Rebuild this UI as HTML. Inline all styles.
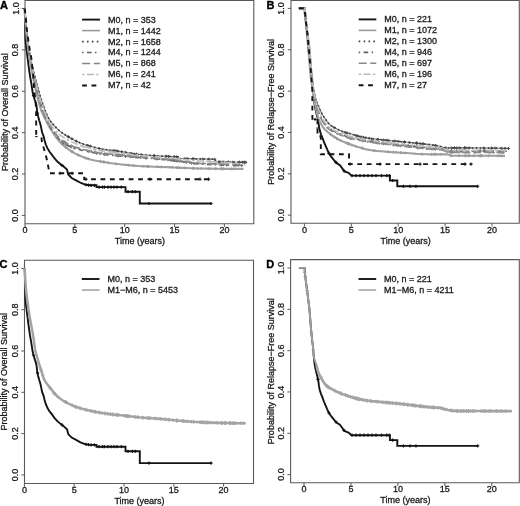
<!DOCTYPE html><html><head><meta charset="utf-8"><style>html,body{margin:0;padding:0;background:#fff;overflow:hidden}svg{display:block;will-change:transform}text{font-family:"Liberation Sans", sans-serif;font-size:9px;fill:#1a1a1a;stroke:#1a1a1a;stroke-width:0.3px}</style></head><body>
<svg width="520" height="506" viewBox="0 0 520 506">
<rect width="520" height="506" fill="#fff"/>
<text x="0.1" y="8.6" style="font-weight:bold;font-size:11px;fill:#000;stroke:#000;stroke-width:0.35px">A</text>
<text x="266.5" y="8.7" style="font-weight:bold;font-size:11px;fill:#000;stroke:#000;stroke-width:0.35px">B</text>
<text x="-0.4" y="268.2" style="font-weight:bold;font-size:11px;fill:#000;stroke:#000;stroke-width:0.35px">C</text>
<text x="266.2" y="268.3" style="font-weight:bold;font-size:11px;fill:#000;stroke:#000;stroke-width:0.35px">D</text>
<path d="M25 0.5H253.8V223.8H25Z" fill="none" stroke="#5a5a5a" stroke-width="1.1"/>
<line x1="21.8" y1="215.4" x2="25" y2="215.4" stroke="#5a5a5a" stroke-width="1"/>
<text x="18.5" y="215.4" transform="rotate(-90 18.5 215.4)" text-anchor="middle">0.0</text>
<line x1="21.8" y1="174.02" x2="25" y2="174.02" stroke="#5a5a5a" stroke-width="1"/>
<text x="18.5" y="174.02" transform="rotate(-90 18.5 174.02)" text-anchor="middle">0.2</text>
<line x1="21.8" y1="132.64" x2="25" y2="132.64" stroke="#5a5a5a" stroke-width="1"/>
<text x="18.5" y="132.64" transform="rotate(-90 18.5 132.64)" text-anchor="middle">0.4</text>
<line x1="21.8" y1="91.26" x2="25" y2="91.26" stroke="#5a5a5a" stroke-width="1"/>
<text x="18.5" y="91.26" transform="rotate(-90 18.5 91.26)" text-anchor="middle">0.6</text>
<line x1="21.8" y1="49.88" x2="25" y2="49.88" stroke="#5a5a5a" stroke-width="1"/>
<text x="18.5" y="49.88" transform="rotate(-90 18.5 49.88)" text-anchor="middle">0.8</text>
<line x1="21.8" y1="8.5" x2="25" y2="8.5" stroke="#5a5a5a" stroke-width="1"/>
<text x="18.5" y="8.5" transform="rotate(-90 18.5 8.5)" text-anchor="middle">1.0</text>
<line x1="25" y1="223.8" x2="25" y2="227" stroke="#5a5a5a" stroke-width="1"/>
<text x="25" y="233.3" text-anchor="middle">0</text>
<line x1="74.85" y1="223.8" x2="74.85" y2="227" stroke="#5a5a5a" stroke-width="1"/>
<text x="74.85" y="233.3" text-anchor="middle">5</text>
<line x1="124.7" y1="223.8" x2="124.7" y2="227" stroke="#5a5a5a" stroke-width="1"/>
<text x="124.7" y="233.3" text-anchor="middle">10</text>
<line x1="174.55" y1="223.8" x2="174.55" y2="227" stroke="#5a5a5a" stroke-width="1"/>
<text x="174.55" y="233.3" text-anchor="middle">15</text>
<line x1="224.4" y1="223.8" x2="224.4" y2="227" stroke="#5a5a5a" stroke-width="1"/>
<text x="224.4" y="233.3" text-anchor="middle">20</text>
<text x="139.9" y="244.2" text-anchor="middle">Time (years)</text>
<text x="8" y="112.15" transform="rotate(-90 8 112.15)" text-anchor="middle">Probability of Overall Survival</text>
<path d="M291 0.5H519.3V223.3H291Z" fill="none" stroke="#5a5a5a" stroke-width="1.1"/>
<line x1="287.8" y1="215.2" x2="291" y2="215.2" stroke="#5a5a5a" stroke-width="1"/>
<text x="284.5" y="215.2" transform="rotate(-90 284.5 215.2)" text-anchor="middle">0.0</text>
<line x1="287.8" y1="173.84" x2="291" y2="173.84" stroke="#5a5a5a" stroke-width="1"/>
<text x="284.5" y="173.84" transform="rotate(-90 284.5 173.84)" text-anchor="middle">0.2</text>
<line x1="287.8" y1="132.48" x2="291" y2="132.48" stroke="#5a5a5a" stroke-width="1"/>
<text x="284.5" y="132.48" transform="rotate(-90 284.5 132.48)" text-anchor="middle">0.4</text>
<line x1="287.8" y1="91.12" x2="291" y2="91.12" stroke="#5a5a5a" stroke-width="1"/>
<text x="284.5" y="91.12" transform="rotate(-90 284.5 91.12)" text-anchor="middle">0.6</text>
<line x1="287.8" y1="49.76" x2="291" y2="49.76" stroke="#5a5a5a" stroke-width="1"/>
<text x="284.5" y="49.76" transform="rotate(-90 284.5 49.76)" text-anchor="middle">0.8</text>
<line x1="287.8" y1="8.4" x2="291" y2="8.4" stroke="#5a5a5a" stroke-width="1"/>
<text x="284.5" y="8.4" transform="rotate(-90 284.5 8.4)" text-anchor="middle">1.0</text>
<line x1="304.4" y1="223.3" x2="304.4" y2="226.5" stroke="#5a5a5a" stroke-width="1"/>
<text x="304.4" y="232.8" text-anchor="middle">0</text>
<line x1="351.3" y1="223.3" x2="351.3" y2="226.5" stroke="#5a5a5a" stroke-width="1"/>
<text x="351.3" y="232.8" text-anchor="middle">5</text>
<line x1="398.2" y1="223.3" x2="398.2" y2="226.5" stroke="#5a5a5a" stroke-width="1"/>
<text x="398.2" y="232.8" text-anchor="middle">10</text>
<line x1="445.1" y1="223.3" x2="445.1" y2="226.5" stroke="#5a5a5a" stroke-width="1"/>
<text x="445.1" y="232.8" text-anchor="middle">15</text>
<line x1="492" y1="223.3" x2="492" y2="226.5" stroke="#5a5a5a" stroke-width="1"/>
<text x="492" y="232.8" text-anchor="middle">20</text>
<text x="405.65" y="243.7" text-anchor="middle">Time (years)</text>
<text x="274" y="111.9" transform="rotate(-90 274 111.9)" text-anchor="middle">Probability of Relapse−Free Survival</text>
<path d="M24.5 260.2H253.5V483.5H24.5Z" fill="none" stroke="#5a5a5a" stroke-width="1.1"/>
<line x1="21.3" y1="474.9" x2="24.5" y2="474.9" stroke="#5a5a5a" stroke-width="1"/>
<text x="18" y="474.9" transform="rotate(-90 18 474.9)" text-anchor="middle">0.0</text>
<line x1="21.3" y1="433.6" x2="24.5" y2="433.6" stroke="#5a5a5a" stroke-width="1"/>
<text x="18" y="433.6" transform="rotate(-90 18 433.6)" text-anchor="middle">0.2</text>
<line x1="21.3" y1="392.3" x2="24.5" y2="392.3" stroke="#5a5a5a" stroke-width="1"/>
<text x="18" y="392.3" transform="rotate(-90 18 392.3)" text-anchor="middle">0.4</text>
<line x1="21.3" y1="351" x2="24.5" y2="351" stroke="#5a5a5a" stroke-width="1"/>
<text x="18" y="351" transform="rotate(-90 18 351)" text-anchor="middle">0.6</text>
<line x1="21.3" y1="309.7" x2="24.5" y2="309.7" stroke="#5a5a5a" stroke-width="1"/>
<text x="18" y="309.7" transform="rotate(-90 18 309.7)" text-anchor="middle">0.8</text>
<line x1="21.3" y1="268.4" x2="24.5" y2="268.4" stroke="#5a5a5a" stroke-width="1"/>
<text x="18" y="268.4" transform="rotate(-90 18 268.4)" text-anchor="middle">1.0</text>
<line x1="24.4" y1="483.5" x2="24.4" y2="486.7" stroke="#5a5a5a" stroke-width="1"/>
<text x="24.4" y="493" text-anchor="middle">0</text>
<line x1="74.2" y1="483.5" x2="74.2" y2="486.7" stroke="#5a5a5a" stroke-width="1"/>
<text x="74.2" y="493" text-anchor="middle">5</text>
<line x1="124" y1="483.5" x2="124" y2="486.7" stroke="#5a5a5a" stroke-width="1"/>
<text x="124" y="493" text-anchor="middle">10</text>
<line x1="173.8" y1="483.5" x2="173.8" y2="486.7" stroke="#5a5a5a" stroke-width="1"/>
<text x="173.8" y="493" text-anchor="middle">15</text>
<line x1="223.6" y1="483.5" x2="223.6" y2="486.7" stroke="#5a5a5a" stroke-width="1"/>
<text x="223.6" y="493" text-anchor="middle">20</text>
<text x="139.5" y="503.9" text-anchor="middle">Time (years)</text>
<text x="7.5" y="371.85" transform="rotate(-90 7.5 371.85)" text-anchor="middle">Probability of Overall Survival</text>
<path d="M290.6 259.6H519.3V482.8H290.6Z" fill="none" stroke="#5a5a5a" stroke-width="1.1"/>
<line x1="287.4" y1="474.6" x2="290.6" y2="474.6" stroke="#5a5a5a" stroke-width="1"/>
<text x="284.1" y="474.6" transform="rotate(-90 284.1 474.6)" text-anchor="middle">0.0</text>
<line x1="287.4" y1="433.28" x2="290.6" y2="433.28" stroke="#5a5a5a" stroke-width="1"/>
<text x="284.1" y="433.28" transform="rotate(-90 284.1 433.28)" text-anchor="middle">0.2</text>
<line x1="287.4" y1="391.96" x2="290.6" y2="391.96" stroke="#5a5a5a" stroke-width="1"/>
<text x="284.1" y="391.96" transform="rotate(-90 284.1 391.96)" text-anchor="middle">0.4</text>
<line x1="287.4" y1="350.64" x2="290.6" y2="350.64" stroke="#5a5a5a" stroke-width="1"/>
<text x="284.1" y="350.64" transform="rotate(-90 284.1 350.64)" text-anchor="middle">0.6</text>
<line x1="287.4" y1="309.32" x2="290.6" y2="309.32" stroke="#5a5a5a" stroke-width="1"/>
<text x="284.1" y="309.32" transform="rotate(-90 284.1 309.32)" text-anchor="middle">0.8</text>
<line x1="287.4" y1="268" x2="290.6" y2="268" stroke="#5a5a5a" stroke-width="1"/>
<text x="284.1" y="268" transform="rotate(-90 284.1 268)" text-anchor="middle">1.0</text>
<line x1="304" y1="482.8" x2="304" y2="486" stroke="#5a5a5a" stroke-width="1"/>
<text x="304" y="492.3" text-anchor="middle">0</text>
<line x1="350.95" y1="482.8" x2="350.95" y2="486" stroke="#5a5a5a" stroke-width="1"/>
<text x="350.95" y="492.3" text-anchor="middle">5</text>
<line x1="397.9" y1="482.8" x2="397.9" y2="486" stroke="#5a5a5a" stroke-width="1"/>
<text x="397.9" y="492.3" text-anchor="middle">10</text>
<line x1="444.85" y1="482.8" x2="444.85" y2="486" stroke="#5a5a5a" stroke-width="1"/>
<text x="444.85" y="492.3" text-anchor="middle">15</text>
<line x1="491.8" y1="482.8" x2="491.8" y2="486" stroke="#5a5a5a" stroke-width="1"/>
<text x="491.8" y="492.3" text-anchor="middle">20</text>
<text x="405.45" y="503.2" text-anchor="middle">Time (years)</text>
<text x="273.6" y="371.2" transform="rotate(-90 273.6 371.2)" text-anchor="middle">Probability of Relapse−Free Survival</text>
<path d="M24.7 8.5 24.81 12.68 24.92 16.87 25.03 21.05 25.13 25.24 25.24 29.42 25.33 33.61 25.42 37.79 25.6 41.97 26.1 46.13 26.63 50.28 27.15 54.43 27.67 58.59 28.18 62.74 28.72 66.89 29.29 71.04 29.91 75.18 30.6 79.31 31.34 83.43 31.95 87.57 32.57 91.71 33.53 95.77 34.76 99.78 36.15 103.74 36.77 107.86 37.24 112.03 38.08 116.13 39.14 120.18 40.4 124.18 41.29 128.26 42.08 132.34 43.62 136.24 44.55 140.33 45.76 144.33 47.4 148.19 49.56 151.77 52.13 155.07 54.61 158.46 57.32 161.59 60.57 164.26 63.89 166.81 67 169.6 68.27 174.43 71.64 178 76.06 180.33 80.44 182.74 85.08 184.59 90 185.3 96.5 185.3 96.5 187.1 125.5 187.1 125.5 191.7 139.8 191.7 139.8 203.5 211.3 203.5" stroke="#141414" stroke-width="1.9" fill="none"/>
<path d="M33.5 94.03v3.2M31.9 95.63h3.2M37.5 111.69v3.2M35.9 113.29h3.2M62 163.76v3.2M60.4 165.36h3.2M86 183.12v3.2M84.4 184.72h3.2M88.5 183.48v3.2M86.9 185.08h3.2M91 183.7v3.2M89.4 185.3h3.2M94.4 183.7v3.2M92.8 185.3h3.2M99 185.5v3.2M97.4 187.1h3.2M102.5 185.5v3.2M100.9 187.1h3.2M104.4 185.5v3.2M102.8 187.1h3.2M108 185.5v3.2M106.4 187.1h3.2M111 185.5v3.2M109.4 187.1h3.2M114 185.5v3.2M112.4 187.1h3.2M117 185.5v3.2M115.4 187.1h3.2M121.3 185.5v3.2M119.7 187.1h3.2M128 190.1v3.2M126.4 191.7h3.2M132.4 190.1v3.2M130.8 191.7h3.2M135.2 190.1v3.2M133.6 191.7h3.2M149 201.9v3.2M147.4 203.5h3.2M211 201.9v3.2M209.4 203.5h3.2" stroke="#111" stroke-width="1.1" fill="none"/>
<path d="M24.7 8.5 24.93 12.56 25.18 16.62 25.44 20.68 25.71 24.74 26 28.8 26.31 32.85 26.68 36.9 27.13 40.95 27.63 44.98 28.17 49.02 28.74 53.04 29.37 57.06 30.04 61.07 30.74 65.08 31.47 69.08 32.22 73.08 32.99 77.07 33.79 81.06 34.62 85.04 35.51 89.01 36.43 92.97 37.41 96.92 38.42 100.86 39.44 104.82 40.57 108.72 42.01 112.49 43.81 116.16 45.64 119.8 47.48 123.44 49.42 127.01 51.52 130.49 53.75 133.94 56.11 137.3 58.64 140.47 61.36 143.4 64.38 146.16 67.6 148.72 70.93 151.01 74.43 153.1 78.07 154.96 81.79 156.58 85.61 158.03 89.5 159.23 93.44 160.17 97.44 160.95 101.45 161.65 105.47 162.31 109.49 162.93 113.52 163.5 117.55 164.02 121.59 164.48 125.64 164.91 129.69 165.31 133.74 165.66 137.8 165.96 141.86 166.2 145.92 166.4 149.98 166.57 154.05 166.73 158.11 166.87 162.18 167.01 166.24 167.16 170.31 167.31 174.37 167.49 178.44 167.68 182.5 167.87 186.57 168.06 190.63 168.23 194.69 168.38 198.76 168.48 202.83 168.54 206.89 168.6 210.96 168.66 215.02 168.71 219.09 168.76 223.16 168.8 227.23 168.83 231.29 168.86 235.36 168.88 239.43 168.9 243.5 168.9" stroke="#a0a0a0" stroke-width="2.1" fill="none"/>
<path d="M62.45 142.9v3M60.95 144.4h3M65.77 145.76v3M64.27 147.26h3M71.91 150.09v3M70.41 151.59h3M72.19 150.26v3M70.69 151.76h3M78.13 153.49v3M76.63 154.99h3M85.29 156.41v3M83.79 157.91h3M88.01 157.27v3M86.51 158.77h3M100.36 159.96v3M98.86 161.46h3M103.59 160.5v3M102.09 162h3M104.26 160.61v3M102.76 162.11h3M108.24 161.24v3M106.74 162.74h3M116.04 162.32v3M114.54 163.82h3M128.81 163.72v3M127.31 165.22h3M133.46 164.14v3M131.96 165.64h3M142.7 164.74v3M141.2 166.24h3M147.47 164.97v3M145.97 166.47h3M147.93 164.99v3M146.43 166.49h3M148.6 165.02v3M147.1 166.52h3M157.31 165.34v3M155.81 166.84h3M161.23 165.48v3M159.73 166.98h3M169.94 165.8v3M168.44 167.3h3M172.33 165.9v3M170.83 167.4h3M176.38 166.08v3M174.88 167.58h3M178.08 166.16v3M176.58 167.66h3M178.87 166.2v3M177.37 167.7h3M184.88 166.48v3M183.38 167.98h3M192.83 166.81v3M191.33 168.31h3M193.7 166.84v3M192.2 168.34h3M197.87 166.96v3M196.37 168.46h3M201.03 167.01v3M199.53 168.51h3M208.97 167.13v3M207.47 168.63h3M215.58 167.22v3M214.08 168.72h3M215.77 167.22v3M214.27 168.72h3M220.99 167.28v3M219.49 168.78h3M221.46 167.28v3M219.96 168.78h3M223.46 167.3v3M221.96 168.8h3M223.47 167.3v3M221.97 168.8h3M231.32 167.36v3M229.82 168.86h3M234.02 167.38v3M232.52 168.88h3" stroke="#999" stroke-width="0.9" fill="none"/>
<path d="M24.7 8.5 25 12.57 25.32 16.63 25.66 20.69 26 24.76 26.37 28.82 26.77 32.87 27.23 36.92 27.77 40.96 28.38 45 29.04 49.02 29.73 53.04 30.49 57.04 31.3 61.04 32.14 65.03 33.03 69.01 33.95 72.98 34.93 76.93 35.96 80.88 37.02 84.82 38.09 88.75 39.19 92.67 40.34 96.59 41.55 100.48 42.83 104.36 44.2 108.2 45.71 111.99 47.34 115.77 49.2 119.39 51.48 122.69 54.26 125.73 57.1 128.67 60.12 131.4 63.42 133.75 66.91 135.91 70.44 137.95 74.01 139.96 77.65 141.81 81.39 143.37 85.26 144.66 89.18 145.83 93.1 146.97 97.04 148.05 101.01 148.89 105.03 149.54 109.07 150.09 113.12 150.6 117.17 151.11 121.21 151.68 125.24 152.32 129.27 152.99 133.29 153.63 137.33 154.2 141.37 154.63 145.43 155 149.5 155.32 153.57 155.61 157.64 155.86 161.71 156.09 165.78 156.3 169.85 156.5 173.92 156.66 178 156.8 178 158.5 215 159.2 216 162 246.5 162.3" stroke="#777" stroke-width="1.1" fill="none"/>
<path d="M24.7 8.5 25 12.57 25.32 16.63 25.66 20.69 26 24.76 26.37 28.82 26.77 32.87 27.23 36.92 27.77 40.96 28.38 45 29.04 49.02 29.73 53.04 30.49 57.04 31.3 61.04 32.14 65.03 33.03 69.01 33.95 72.98 34.93 76.93 35.96 80.88 37.02 84.82 38.09 88.75 39.19 92.67 40.34 96.59 41.55 100.48 42.83 104.36 44.2 108.2 45.71 111.99 47.34 115.77 49.2 119.39 51.48 122.69 54.26 125.73 57.1 128.67 60.12 131.4 63.42 133.75 66.91 135.91 70.44 137.95 74.01 139.96 77.65 141.81 81.39 143.37 85.26 144.66 89.18 145.83 93.1 146.97 97.04 148.05 101.01 148.89 105.03 149.54 109.07 150.09 113.12 150.6 117.17 151.11 121.21 151.68 125.24 152.32 129.27 152.99 133.29 153.63 137.33 154.2 141.37 154.63 145.43 155 149.5 155.32 153.57 155.61 157.64 155.86 161.71 156.09 165.78 156.3 169.85 156.5 173.92 156.66 178 156.8 178 158.5 215 159.2 216 162 246.5 162.3" stroke="#3a3a3a" stroke-width="1.7" fill="none" stroke-dasharray="1.6 2.4"/>
<path d="M68.22 135.17v3M66.72 136.67h3M68.36 135.25v3M66.86 136.75h3M71.8 137.22v3M70.3 138.72h3M76.46 139.71v3M74.96 141.21h3M88.04 143.99v3M86.54 145.49h3M90.34 144.67v3M88.84 146.17h3M99.27 147.02v3M97.77 148.52h3M113 149.08v3M111.5 150.58h3M114.66 149.29v3M113.16 150.79h3M115.99 149.46v3M114.49 150.96h3M117.6 149.67v3M116.1 151.17h3M121.56 150.23v3M120.06 151.73h3M125.27 150.83v3M123.77 152.33h3M131.77 151.89v3M130.27 153.39h3M136.35 152.56v3M134.85 154.06h3M141.13 153.11v3M139.63 154.61h3M154.01 154.14v3M152.51 155.64h3M154.35 154.16v3M152.85 155.66h3M165.85 154.81v3M164.35 156.31h3M166.68 154.85v3M165.18 156.35h3M168.67 154.94v3M167.17 156.44h3M168.82 154.95v3M167.32 156.45h3M174.3 155.17v3M172.8 156.67h3M176.56 155.25v3M175.06 156.75h3M184.86 157.13v3M183.36 158.63h3M186.85 157.17v3M185.35 158.67h3M192.77 157.28v3M191.27 158.78h3M193.63 157.3v3M192.13 158.8h3M203 157.47v3M201.5 158.97h3M208.91 157.58v3M207.41 159.08h3M214.68 157.69v3M213.18 159.19h3M218.83 160.53v3M217.33 162.03h3M219.29 160.53v3M217.79 162.03h3M220.08 160.54v3M218.58 162.04h3M222.33 160.56v3M220.83 162.06h3M223.85 160.58v3M222.35 162.08h3M228.18 160.62v3M226.68 162.12h3M228.27 160.62v3M226.77 162.12h3M232.78 160.67v3M231.28 162.17h3M239.42 160.73v3M237.92 162.23h3M239.58 160.73v3M238.08 162.23h3M242.4 160.76v3M240.9 162.26h3M244.1 160.78v3M242.6 162.28h3M244.32 160.78v3M242.82 162.28h3M245.72 160.79v3M244.22 162.29h3" stroke="#444" stroke-width="0.9" fill="none"/>
<path d="M24.7 8.5 24.97 12.56 25.25 16.63 25.55 20.69 25.85 24.75 26.16 28.81 26.5 32.87 26.9 36.92 27.36 40.97 27.88 45.01 28.46 49.04 29.1 53.06 29.84 57.07 30.62 61.07 31.39 65.06 32.18 69.06 33 73.05 33.84 77.03 34.71 81.01 35.63 84.98 36.61 88.93 37.63 92.88 38.65 96.82 39.7 100.75 40.75 104.7 41.86 108.61 43.16 112.46 44.68 116.25 46.33 119.98 48.13 123.66 50.11 127.19 52.3 130.65 54.69 134.05 57.28 137.24 60.08 140.07 63.23 142.59 66.73 144.83 70.36 146.66 74.14 148.11 78.07 149.31 82.01 150.32 86 151.17 90 151.97 93.98 152.84 97.97 153.67 101.99 154.26 106.03 154.74 110.08 155.14 114.14 155.5 118.21 155.85 122.27 156.19 126.33 156.5 130.39 156.8 134.45 157.09 138.51 157.38 142.57 157.7 146.63 158.01 150.7 158.32 154.76 158.64 158.82 158.97 162.88 159.32 166.93 159.7 170.98 160.1 175.02 160.62 179.05 161.22 183.09 161.86 187.12 162.51 191.15 163.1 195.19 163.6 199.23 163.95 203.28 164.18 207.34 164.4 211.4 164.6 215.46 164.79 219.53 164.97 223.6 165.12 227.67 165.25 231.75 165.36 235.83 165.43 239.91 165.48 244 165.5" stroke="#606060" stroke-width="1.6" fill="none" stroke-dasharray="1.5 3.4 4.6 3.4"/>
<path d="M62.13 140.21v3M60.63 141.71h3M63.73 141.41v3M62.23 142.91h3M65.84 142.76v3M64.34 144.26h3M67.89 143.92v3M66.39 145.42h3M71.17 145.47v3M69.67 146.97h3M74.32 146.66v3M72.82 148.16h3M89.05 150.28v3M87.55 151.78h3M96.71 151.91v3M95.21 153.41h3M104.2 153.02v3M102.7 154.52h3M116 154.16v3M114.5 155.66h3M118.37 154.36v3M116.87 155.86h3M125.58 154.94v3M124.08 156.44h3M130.27 155.29v3M128.77 156.79h3M135.88 155.69v3M134.38 157.19h3M137.23 155.79v3M135.73 157.29h3M140.2 156.02v3M138.7 157.52h3M145.64 156.44v3M144.14 157.94h3M146.72 156.52v3M145.22 158.02h3M154.31 157.11v3M152.81 158.61h3M156.73 157.3v3M155.23 158.8h3M156.93 157.32v3M155.43 158.82h3M162.01 157.75v3M160.51 159.25h3M164.02 157.93v3M162.52 159.43h3M167.87 158.29v3M166.37 159.79h3M170.79 158.59v3M169.29 160.09h3M171.56 158.68v3M170.06 160.18h3M173.55 158.93v3M172.05 160.43h3M174.54 159.06v3M173.04 160.56h3M175.34 159.16v3M173.84 160.66h3M176.69 159.36v3M175.19 160.86h3M177.59 159.5v3M176.09 161h3M179.76 159.83v3M178.26 161.33h3M186.35 160.89v3M184.85 162.39h3M191.49 161.64v3M189.99 163.14h3M193.98 161.95v3M192.48 163.45h3M221.41 163.54v3M219.91 165.04h3M226.78 163.72v3M225.28 165.22h3M234.96 163.92v3M233.46 165.42h3M238.31 163.96v3M236.81 165.46h3M241.87 163.99v3M240.37 165.49h3" stroke="#666" stroke-width="0.9" fill="none"/>
<path d="M24.7 8.5 24.96 12.56 25.25 16.62 25.55 20.68 25.87 24.73 26.21 28.79 26.58 32.84 27.01 36.88 27.5 40.92 28.05 44.96 28.64 48.98 29.3 52.99 30.03 57 30.8 60.99 31.59 64.98 32.42 68.97 33.27 72.95 34.15 76.92 35.05 80.89 36.01 84.84 37.04 88.77 38.08 92.71 39.1 96.65 40.16 100.57 41.3 104.48 42.49 108.37 43.7 112.26 45.04 116.1 46.74 119.79 48.71 123.38 50.84 126.83 53.1 130.28 55.54 133.63 58.18 136.72 61.07 139.41 64.36 141.83 67.92 143.95 71.56 145.7 75.36 147.17 79.26 148.42 83.18 149.46 87.15 150.36 91.13 151.22 95.11 152.11 99.11 152.87 103.13 153.4 107.17 153.84 111.22 154.22 115.28 154.58 119.34 154.94 123.39 155.32 127.44 155.68 131.49 156.04 135.55 156.4 139.6 156.76 143.65 157.12 147.71 157.47 151.76 157.82 155.81 158.16 159.87 158.52 163.92 158.89 167.97 159.29 172.01 159.73 176.05 160.26 180.08 160.86 184.11 161.49 188.14 162.09 192.18 162.62 196.22 163.04 200.26 163.31 204.31 163.49 208.37 163.67 212.43 163.82 216.49 163.97 220.55 164.1 224.62 164.22 228.69 164.32 232.76 164.39 236.84 164.45 240.92 164.49 245 164.5" stroke="#8a8a8a" stroke-width="1.7" fill="none" stroke-dasharray="8 3.6"/>
<path d="M64.13 140.16v3M62.63 141.66h3M65.01 140.72v3M63.51 142.22h3M71.27 144.06v3M69.77 145.56h3M78.94 146.82v3M77.44 148.32h3M91.49 149.8v3M89.99 151.3h3M94.86 150.55v3M93.36 152.05h3M101.39 151.67v3M99.89 153.17h3M104.4 152.04v3M102.9 153.54h3M106.71 152.29v3M105.21 153.79h3M115.88 153.13v3M114.38 154.63h3M117.66 153.29v3M116.16 154.79h3M118.16 153.33v3M116.66 154.83h3M119.52 153.46v3M118.02 154.96h3M119.89 153.49v3M118.39 154.99h3M122.08 153.69v3M120.58 155.19h3M122.63 153.75v3M121.13 155.25h3M127.7 154.21v3M126.2 155.71h3M128.66 154.29v3M127.16 155.79h3M130.15 154.42v3M128.65 155.92h3M140.95 155.38v3M139.45 156.88h3M141.55 155.44v3M140.05 156.94h3M144.87 155.73v3M143.37 157.23h3M165.88 157.59v3M164.38 159.09h3M170.24 158.04v3M168.74 159.54h3M170.79 158.09v3M169.29 159.59h3M180.94 159.5v3M179.44 161h3M185.74 160.23v3M184.24 161.73h3M189.84 160.81v3M188.34 162.31h3M196.74 161.58v3M195.24 163.08h3M197.27 161.61v3M195.77 163.11h3M203.64 161.96v3M202.14 163.46h3M209.51 162.21v3M208.01 163.71h3M215.04 162.42v3M213.54 163.92h3M219.13 162.56v3M217.63 164.06h3M239.17 162.97v3M237.67 164.47h3" stroke="#888" stroke-width="0.9" fill="none"/>
<path d="M24.7 8.5 25.01 12.56 25.33 16.62 25.66 20.67 25.98 24.73 26.31 28.79 26.68 32.85 27.11 36.89 27.63 40.93 28.21 44.96 28.84 48.98 29.5 53 30.23 57 31 61 31.81 64.99 32.67 68.97 33.56 72.94 34.47 76.91 35.42 80.87 36.41 84.82 37.43 88.76 38.49 92.69 39.59 96.61 40.76 100.5 42 104.38 43.34 108.23 44.78 112.04 46.29 115.88 47.94 119.64 49.81 123.18 52.03 126.54 54.62 129.78 57.48 132.77 60.5 135.4 63.84 137.66 67.44 139.69 71.08 141.54 74.77 143.27 78.55 144.81 82.39 146.11 86.32 147.21 90.26 148.23 94.21 149.25 98.18 150.16 102.18 150.85 106.21 151.4 110.25 151.89 114.3 152.34 118.35 152.8 122.39 153.3 126.43 153.84 130.47 154.37 134.5 154.88 138.55 155.35 142.6 155.75 146.65 156.12 150.7 156.45 154.76 156.77 158.82 157.08 162.88 157.4 166.94 157.73 170.99 158.09 175.05 158.5 179.09 158.93 183.14 159.38 187.19 159.83 191.24 160.25 195.29 160.63 199.35 160.95 203.4 161.23 207.46 161.49 211.52 161.75 215.59 161.99 219.65 162.21 223.72 162.42 227.79 162.6 231.86 162.76 235.93 162.9 240 163" stroke="#bbb" stroke-width="1.6" fill="none" stroke-dasharray="2.4 2.4 7 2.4"/>
<path d="M82.49 144.63v3M80.99 146.13h3M84.12 145.09v3M82.62 146.59h3M94.15 147.73v3M92.65 149.23h3M95.49 148.04v3M93.99 149.54h3M101.86 149.29v3M100.36 150.79h3M110.44 150.41v3M108.94 151.91h3M111.82 150.56v3M110.32 152.06h3M114.3 150.84v3M112.8 152.34h3M124.22 152.05v3M122.72 153.55h3M124.42 152.07v3M122.92 153.57h3M137.54 153.73v3M136.04 155.23h3M143.91 154.37v3M142.41 155.87h3M158.51 155.56v3M157.01 157.06h3M179.4 157.47v3M177.9 158.97h3M207.66 160.01v3M206.16 161.51h3M209.96 160.15v3M208.46 161.65h3M210.06 160.16v3M208.56 161.66h3M210.14 160.16v3M208.64 161.66h3M215.96 160.51v3M214.46 162.01h3M224.59 160.96v3M223.09 162.46h3" stroke="#bbb" stroke-width="0.9" fill="none"/>
<path d="M24.7 8.5 25.23 12.64 25.69 16.79 26.1 20.95 26.46 25.11 26.82 29.26 27.32 33.41 27.93 37.54 28.54 41.67 29.14 45.8 29.79 49.93 30.58 54.03 31.32 58.13 31.82 62.28 32.24 66.43 32.67 70.59 33.1 74.74 33.48 78.9 33.78 83.06 34.08 87.22 34.42 91.38 34.84 95.54 35.27 99.69 35.68 103.85 36.1 108 36.2 137.8" stroke="#141414" stroke-width="1.9" fill="none" stroke-dasharray="4.8 4.6"/>
<path d="M41.5 137.3 41.8 141 42.99 145.59 44.35 150.13 45.61 154.71 46.79 159.3 47.78 163.94 48.62 168.6 49.3 173.3 84.2 173.3 84.2 179.2 209 179.2" stroke="#141414" stroke-width="1.9" fill="none" stroke-dasharray="4.8 4.6"/>
<path d="M35.2 136.6h2.4" stroke="#141414" stroke-width="1.1"/>
<path d="M60 171.7v3.2M58.4 173.3h3.2M72 171.7v3.2M70.4 173.3h3.2M86 177.6v3.2M84.4 179.2h3.2M150 177.6v3.2M148.4 179.2h3.2M200 177.6v3.2M198.4 179.2h3.2M208.6 177.6v3.2M207 179.2h3.2" stroke="#111" stroke-width="1.1" fill="none"/>
<path d="M24.7 268.1 24.81 272.28 24.92 276.47 25.03 280.65 25.13 284.84 25.24 289.02 25.33 293.21 25.42 297.39 25.6 301.57 26.1 305.73 26.63 309.88 27.15 314.03 27.67 318.19 28.18 322.34 28.72 326.49 29.29 330.64 29.91 334.78 30.6 338.91 31.34 343.03 31.95 347.17 32.57 351.31 33.53 355.37 34.76 359.38 36.15 363.34 36.77 367.46 37.24 371.63 38.08 375.73 39.14 379.78 40.4 383.78 41.29 387.86 42.08 391.94 43.62 395.84 44.55 399.93 45.76 403.93 47.4 407.79 49.56 411.37 52.13 414.67 54.61 418.06 57.32 421.19 60.57 423.86 63.89 426.41 67 429.2 68.27 434.03 71.64 437.6 76.06 439.93 80.44 442.34 85.08 444.19 90 444.9 96.5 444.9 96.5 446.7 125.5 446.7 125.5 451.3 139.8 451.3 139.8 463.1 211.3 463.1" stroke="#141414" stroke-width="1.9" fill="none"/>
<path d="M33.5 353.63v3.2M31.9 355.23h3.2M37.5 371.29v3.2M35.9 372.89h3.2M62 423.36v3.2M60.4 424.96h3.2M86 442.72v3.2M84.4 444.32h3.2M88.5 443.08v3.2M86.9 444.68h3.2M91 443.3v3.2M89.4 444.9h3.2M94.4 443.3v3.2M92.8 444.9h3.2M99 445.1v3.2M97.4 446.7h3.2M102.5 445.1v3.2M100.9 446.7h3.2M104.4 445.1v3.2M102.8 446.7h3.2M108 445.1v3.2M106.4 446.7h3.2M111 445.1v3.2M109.4 446.7h3.2M114 445.1v3.2M112.4 446.7h3.2M117 445.1v3.2M115.4 446.7h3.2M121.3 445.1v3.2M119.7 446.7h3.2M128 449.7v3.2M126.4 451.3h3.2M132.4 449.7v3.2M130.8 451.3h3.2M135.2 449.7v3.2M133.6 451.3h3.2M149 461.5v3.2M147.4 463.1h3.2M211 461.5v3.2M209.4 463.1h3.2" stroke="#111" stroke-width="1.1" fill="none"/>
<path d="M24.7 268.1 24.89 272.19 25.1 276.28 25.35 280.36 25.62 284.44 25.93 288.53 26.3 292.6 26.77 296.66 27.29 300.72 27.84 304.78 28.43 308.83 29.07 312.87 29.75 316.91 30.46 320.94 31.19 324.96 31.93 328.99 32.69 333.01 33.36 337.05 33.9 341.1 34.47 345.16 35.08 349.21 35.89 353.21 37.1 357.12 38.25 361.05 39.42 364.98 40.67 368.87 41.95 372.76 43.15 376.72 44.63 380.47 46.92 383.88 49.46 387.1 52.05 390.27 54.48 393.55 57.43 396.41 60.63 398.95 64.05 401.19 67.64 403.15 71.32 404.96 75.06 406.59 78.96 407.84 82.91 408.95 86.87 409.98 90.86 410.88 94.87 411.7 98.89 412.45 102.93 413.13 106.98 413.75 111.03 414.29 115.1 414.73 119.18 415.12 123.24 415.55 127.31 416.02 131.38 416.49 135.44 416.95 139.51 417.37 143.59 417.73 147.67 418.04 151.75 418.31 155.84 418.56 159.92 418.85 163.99 419.22 168.07 419.63 172.14 420.06 176.21 420.46 180.29 420.82 184.37 421.15 188.45 421.47 192.53 421.76 196.61 422.02 200.7 422.23 204.79 422.41 208.88 422.57 212.97 422.71 217.06 422.83 221.15 422.93 225.24 423.01 229.33 423.09 233.42 423.16 237.51 423.23 241.61 423.27 245.7 423.3" stroke="#a4a4a4" stroke-width="2.5" fill="none"/>
<path d="M40.37 366.16v3.6M38.57 367.96h3.6M40.96 367.97v3.6M39.16 369.77h3.6M41.55 369.75v3.6M39.75 371.55h3.6M42.71 373.47v3.6M40.91 375.27h3.6M49.29 385.09v3.6M47.49 386.89h3.6M50.29 386.32v3.6M48.49 388.12h3.6M51.3 387.55v3.6M49.5 389.35h3.6M54.02 391.13v3.6M52.22 392.93h3.6M54.09 391.23v3.6M52.29 393.03h3.6M54.75 392.01v3.6M52.95 393.81h3.6M56.46 393.67v3.6M54.66 395.47h3.6M57.74 394.86v3.6M55.94 396.66h3.6M65.37 400.11v3.6M63.57 401.91h3.6M65.49 400.18v3.6M63.69 401.98h3.6M65.67 400.28v3.6M63.87 402.08h3.6M66.13 400.53v3.6M64.33 402.33h3.6M72.14 403.52v3.6M70.34 405.32h3.6M75.29 404.87v3.6M73.49 406.67h3.6M75.4 404.9v3.6M73.6 406.7h3.6M76.78 405.35v3.6M74.98 407.15h3.6M79.36 406.16v3.6M77.56 407.96h3.6M80.65 406.52v3.6M78.85 408.32h3.6M85.75 407.89v3.6M83.95 409.69h3.6M86.86 408.17v3.6M85.06 409.97h3.6M90.49 409v3.6M88.69 410.8h3.6M92.01 409.32v3.6M90.21 411.12h3.6M94.01 409.73v3.6M92.21 411.53h3.6M95.33 409.99v3.6M93.53 411.79h3.6M95.91 410.09v3.6M94.11 411.89h3.6M99.12 410.69v3.6M97.32 412.49h3.6M99.54 410.76v3.6M97.74 412.56h3.6M101.78 411.14v3.6M99.98 412.94h3.6M104.8 411.62v3.6M103 413.42h3.6M105.07 411.66v3.6M103.27 413.46h3.6M107.73 412.05v3.6M105.93 413.85h3.6M110.26 412.38v3.6M108.46 414.18h3.6M110.32 412.39v3.6M108.52 414.19h3.6M112.37 412.63v3.6M110.57 414.43h3.6M112.48 412.64v3.6M110.68 414.44h3.6M114.33 412.84v3.6M112.53 414.64h3.6M116.72 413.08v3.6M114.92 414.88h3.6M116.89 413.1v3.6M115.09 414.9h3.6M117.09 413.12v3.6M115.29 414.92h3.6M118.33 413.24v3.6M116.53 415.04h3.6M118.33 413.24v3.6M116.53 415.04h3.6M124.36 413.88v3.6M122.56 415.68h3.6M125.23 413.98v3.6M123.43 415.78h3.6M126.47 414.12v3.6M124.67 415.92h3.6M126.63 414.14v3.6M124.83 415.94h3.6M127.13 414.2v3.6M125.33 416h3.6M127.53 414.24v3.6M125.73 416.04h3.6M127.73 414.27v3.6M125.93 416.07h3.6M128.91 414.4v3.6M127.11 416.2h3.6M129.48 414.47v3.6M127.68 416.27h3.6M134.93 415.09v3.6M133.13 416.89h3.6M135.61 415.17v3.6M133.81 416.97h3.6M137.42 415.35v3.6M135.62 417.15h3.6M138.3 415.45v3.6M136.5 417.25h3.6M142.21 415.81v3.6M140.41 417.61h3.6M143.44 415.92v3.6M141.64 417.72h3.6M146.92 416.18v3.6M145.12 417.98h3.6M148.14 416.27v3.6M146.34 418.07h3.6M148.62 416.3v3.6M146.82 418.1h3.6M150.14 416.4v3.6M148.34 418.2h3.6M150.38 416.42v3.6M148.58 418.22h3.6M154.44 416.67v3.6M152.64 418.47h3.6M156.15 416.78v3.6M154.35 418.58h3.6M158.85 416.97v3.6M157.05 418.77h3.6M160.84 417.13v3.6M159.04 418.93h3.6M161.27 417.17v3.6M159.47 418.97h3.6M164.51 417.47v3.6M162.71 419.27h3.6M166.11 417.63v3.6M164.31 419.43h3.6M168.32 417.86v3.6M166.52 419.66h3.6M169.49 417.98v3.6M167.69 419.78h3.6M173.26 418.37v3.6M171.46 420.17h3.6M176.43 418.68v3.6M174.63 420.48h3.6M176.56 418.7v3.6M174.76 420.5h3.6M176.58 418.7v3.6M174.78 420.5h3.6M177.52 418.78v3.6M175.72 420.58h3.6M182.9 419.23v3.6M181.1 421.03h3.6M182.99 419.24v3.6M181.19 421.04h3.6M183.2 419.26v3.6M181.4 421.06h3.6M184.79 419.38v3.6M182.99 421.18h3.6M187.5 419.6v3.6M185.7 421.4h3.6M191.15 419.86v3.6M189.35 421.66h3.6M193.53 420.03v3.6M191.73 421.83h3.6M193.58 420.03v3.6M191.78 421.83h3.6M199.96 420.39v3.6M198.16 422.19h3.6M201.16 420.45v3.6M199.36 422.25h3.6M201.22 420.46v3.6M199.42 422.26h3.6M202.93 420.53v3.6M201.13 422.33h3.6M203.08 420.54v3.6M201.28 422.34h3.6M203.25 420.54v3.6M201.45 422.34h3.6M205.04 420.62v3.6M203.24 422.42h3.6M206.05 420.66v3.6M204.25 422.46h3.6M206.9 420.69v3.6M205.1 422.49h3.6M207.52 420.72v3.6M205.72 422.52h3.6M208.26 420.75v3.6M206.46 422.55h3.6M209.64 420.8v3.6M207.84 422.6h3.6M212.36 420.89v3.6M210.56 422.69h3.6M216.02 421v3.6M214.22 422.8h3.6M217.5 421.04v3.6M215.7 422.84h3.6M217.69 421.04v3.6M215.89 422.84h3.6M221.21 421.13v3.6M219.41 422.93h3.6M221.28 421.13v3.6M219.48 422.93h3.6M222.79 421.16v3.6M220.99 422.96h3.6M224.69 421.2v3.6M222.89 423h3.6M224.96 421.21v3.6M223.16 423.01h3.6M225.33 421.21v3.6M223.53 423.01h3.6M226.14 421.23v3.6M224.34 423.03h3.6M229.65 421.3v3.6M227.85 423.1h3.6M229.88 421.3v3.6M228.08 423.1h3.6M230.31 421.31v3.6M228.51 423.11h3.6M231.04 421.32v3.6M229.24 423.12h3.6M232.92 421.36v3.6M231.12 423.16h3.6M233.44 421.37v3.6M231.64 423.17h3.6M234.31 421.38v3.6M232.51 423.18h3.6M235.73 421.4v3.6M233.93 423.2h3.6M240.79 421.46v3.6M238.99 423.26h3.6M243.3 421.48v3.6M241.5 423.28h3.6" stroke="#a4a4a4" stroke-width="1.0" fill="none"/>
<path d="M298.9 8.3 304.6 8.3 304.85 12.4 305.24 16.48 305.72 20.56 306.25 24.63 306.8 28.69 307.35 32.76 307.86 36.83 308.36 40.91 308.9 44.98 309.37 49.05 309.73 53.14 310.06 57.23 310.38 61.32 310.69 65.41 311.02 69.51 311.4 73.59 311.82 77.67 312.32 81.75 312.84 85.82 313.2 89.91 313.5 94 313.86 98.09 314.3 102.17 314.9 106.23 315.71 110.25 316.67 114.24 317.68 118.22 318.48 122.25 318.95 126.33 319.73 130.35 320.98 134.25 322.54 138.05 323.91 141.92 325.54 145.69 327.13 149.48 328.84 153.19 331.19 156.57 333.74 159.79 336.44 162.91 339.88 165.1 342.3 168.42 344.48 171.47 348.52 172.88 351.5 175.6 389.9 175.6 389.9 180.5 397.3 180.5 397.3 186.3 477.7 186.3" stroke="#141414" stroke-width="1.9" fill="none"/>
<path d="M318 118.22v3.2M316.4 119.82h3.2M329 151.81v3.2M327.4 153.41h3.2M336 160.8v3.2M334.4 162.4h3.2M344 169.2v3.2M342.4 170.8h3.2M352 174v3.2M350.4 175.6h3.2M356 174v3.2M354.4 175.6h3.2M360 174v3.2M358.4 175.6h3.2M364 174v3.2M362.4 175.6h3.2M368 174v3.2M366.4 175.6h3.2M372 174v3.2M370.4 175.6h3.2M376 174v3.2M374.4 175.6h3.2M381.6 174v3.2M380 175.6h3.2M386.7 174v3.2M385.1 175.6h3.2M389.2 174v3.2M387.6 175.6h3.2M392.7 178.9v3.2M391.1 180.5h3.2M403.4 184.7v3.2M401.8 186.3h3.2M410 184.7v3.2M408.4 186.3h3.2M416 184.7v3.2M414.4 186.3h3.2M477.7 184.7v3.2M476.1 186.3h3.2" stroke="#111" stroke-width="1.1" fill="none"/>
<path d="M298.9 8.3 304.6 8.3 304.94 12.41 305.29 16.51 305.66 20.62 306.04 24.72 306.43 28.83 306.83 32.93 307.22 37.03 307.6 41.13 307.98 45.24 308.35 49.34 308.71 53.45 309.08 57.55 309.45 61.66 309.78 65.77 310.11 69.88 310.47 73.99 310.88 78.09 311.41 82.17 312.13 86.23 312.85 90.29 313.45 94.37 314.05 98.44 314.73 102.51 315.51 106.56 316.4 110.58 317.4 114.58 318.51 118.57 320.04 122.38 322.11 125.93 324.69 129.18 327.62 132.05 330.85 134.64 334.24 136.97 337.79 139.08 341.48 140.91 345.27 142.52 349.13 144 353.01 145.37 356.94 146.64 360.89 147.8 364.87 148.94 368.88 149.89 372.93 150.48 377.03 150.94 381.15 151.32 385.26 151.65 389.37 151.94 393.48 152.19 397.6 152.43 401.71 152.68 405.83 152.98 409.94 153.31 414.05 153.63 418.17 153.93 422.28 154.16 426.4 154.32 430.51 154.37 434.63 154.37 438.75 154.37 442.88 154.37 447 154.37 451.3 155.73 455.74 155.74 460.24 155.7 464.71 155.7 469.19 155.7 473.66 155.71 478.14 155.71 482.62 155.73 487.09 155.74 491.57 155.77 496.05 155.8 500.52 155.85 505 155.9" stroke="#a0a0a0" stroke-width="2.1" fill="none"/>
<path d="M330.88 133.16v3M329.38 134.66h3M334.23 135.46v3M332.73 136.96h3M336.53 136.83v3M335.03 138.33h3M337.98 137.67v3M336.48 139.17h3M341.01 139.18v3M339.51 140.68h3M346.52 141.5v3M345.02 143h3M347.87 142.02v3M346.37 143.52h3M348.56 142.28v3M347.06 143.78h3M349.21 142.53v3M347.71 144.03h3M351.83 143.45v3M350.33 144.95h3M355.83 144.78v3M354.33 146.28h3M362.25 146.69v3M360.75 148.19h3M362.36 146.72v3M360.86 148.22h3M373.58 149.06v3M372.08 150.56h3M374.99 149.21v3M373.49 150.71h3M388.36 150.37v3M386.86 151.87h3M393.05 150.66v3M391.55 152.16h3M396.14 150.84v3M394.64 152.34h3M400.87 151.13v3M399.37 152.63h3M401.4 151.16v3M399.9 152.66h3M405.28 151.44v3M403.78 152.94h3M422.04 152.65v3M420.54 154.15h3M431.52 152.87v3M430.02 154.37h3M434.23 152.87v3M432.73 154.37h3M435.8 152.87v3M434.3 154.37h3M440.88 152.87v3M439.38 154.37h3M451.24 154.21v3M449.74 155.71h3M458.73 154.21v3M457.23 155.71h3M464.81 154.2v3M463.31 155.7h3M465.64 154.2v3M464.14 155.7h3M468.14 154.2v3M466.64 155.7h3M469.37 154.2v3M467.87 155.7h3M473.77 154.21v3M472.27 155.71h3M479.05 154.22v3M477.55 155.72h3M480.51 154.22v3M479.01 155.72h3M481.48 154.22v3M479.98 155.72h3M481.91 154.22v3M480.41 155.72h3M488.48 154.25v3M486.98 155.75h3M498.22 154.32v3M496.72 155.82h3M501.43 154.36v3M499.93 155.86h3" stroke="#999" stroke-width="0.9" fill="none"/>
<path d="M298.9 8.3 304.6 8.3 305.02 12.39 305.44 16.48 305.86 20.57 306.29 24.65 306.72 28.74 307.15 32.83 307.58 36.92 308 41 308.42 45.09 308.82 49.18 309.23 53.27 309.64 57.36 310.04 61.45 310.42 65.55 310.78 69.65 311.17 73.74 311.62 77.82 312.19 81.88 312.96 85.92 313.79 89.95 314.55 94.01 315.38 98.04 316.61 101.92 318.29 105.69 319.87 109.49 321.62 113.21 323.76 116.7 326.14 120.07 328.56 123.36 331.67 126.05 335.25 128.09 338.93 129.94 342.7 131.58 346.6 132.82 350.61 133.78 354.53 135.02 358.46 136.25 362.45 137.18 366.49 137.94 370.56 138.56 374.63 139.07 378.71 139.53 382.8 139.95 386.89 140.33 390.99 140.71 395.09 141.09 399.18 141.49 403.27 141.9 407.36 142.3 411.45 142.69 415.55 143.08 419.64 143.49 423.72 143.93 427.81 144.4 431.88 144.92 435.94 145.54 440 146.2 444.19 147.75 448.48 147.98 452.87 147.94 457.3 147.91 461.7 147.9 466.09 147.91 470.48 147.92 474.87 147.95 479.26 147.98 483.65 148.02 488.04 148.07 492.44 148.14 496.83 148.21 501.22 148.29 505.61 148.39 510 148.5" stroke="#777" stroke-width="1.1" fill="none"/>
<path d="M298.9 8.3 304.6 8.3 305.02 12.39 305.44 16.48 305.86 20.57 306.29 24.65 306.72 28.74 307.15 32.83 307.58 36.92 308 41 308.42 45.09 308.82 49.18 309.23 53.27 309.64 57.36 310.04 61.45 310.42 65.55 310.78 69.65 311.17 73.74 311.62 77.82 312.19 81.88 312.96 85.92 313.79 89.95 314.55 94.01 315.38 98.04 316.61 101.92 318.29 105.69 319.87 109.49 321.62 113.21 323.76 116.7 326.14 120.07 328.56 123.36 331.67 126.05 335.25 128.09 338.93 129.94 342.7 131.58 346.6 132.82 350.61 133.78 354.53 135.02 358.46 136.25 362.45 137.18 366.49 137.94 370.56 138.56 374.63 139.07 378.71 139.53 382.8 139.95 386.89 140.33 390.99 140.71 395.09 141.09 399.18 141.49 403.27 141.9 407.36 142.3 411.45 142.69 415.55 143.08 419.64 143.49 423.72 143.93 427.81 144.4 431.88 144.92 435.94 145.54 440 146.2 444.19 147.75 448.48 147.98 452.87 147.94 457.3 147.91 461.7 147.9 466.09 147.91 470.48 147.92 474.87 147.95 479.26 147.98 483.65 148.02 488.04 148.07 492.44 148.14 496.83 148.21 501.22 148.29 505.61 148.39 510 148.5" stroke="#3a3a3a" stroke-width="1.7" fill="none" stroke-dasharray="1.6 2.4"/>
<path d="M334.16 125.97v3M332.66 127.47h3M344.99 130.81v3M343.49 132.31h3M347.25 131.48v3M345.75 132.98h3M355.85 133.94v3M354.35 135.44h3M356.88 134.26v3M355.38 135.76h3M358.91 134.86v3M357.41 136.36h3M361 135.35v3M359.5 136.85h3M363.5 135.88v3M362 137.38h3M365.85 136.32v3M364.35 137.82h3M369.17 136.84v3M367.67 138.34h3M371.81 137.22v3M370.31 138.72h3M378.09 137.96v3M376.59 139.46h3M378.12 137.97v3M376.62 139.47h3M383.26 138.49v3M381.76 139.99h3M386.67 138.81v3M385.17 140.31h3M387.97 138.93v3M386.47 140.43h3M394.88 139.57v3M393.38 141.07h3M398.9 139.96v3M397.4 141.46h3M404.31 140.5v3M402.81 142h3M404.38 140.51v3M402.88 142.01h3M409.75 141.03v3M408.25 142.53h3M416.31 141.66v3M414.81 143.16h3M416.33 141.66v3M414.83 143.16h3M417.07 141.74v3M415.57 143.24h3M420.06 142.04v3M418.56 143.54h3M423.08 142.36v3M421.58 143.86h3M423.11 142.36v3M421.61 143.86h3M435.24 143.93v3M433.74 145.43h3M435.41 143.95v3M433.91 145.45h3M445.73 146.33v3M444.23 147.83h3M451.29 146.46v3M449.79 147.96h3M454.35 146.43v3M452.85 147.93h3M454.4 146.43v3M452.9 147.93h3M456.96 146.41v3M455.46 147.91h3M459.4 146.4v3M457.9 147.9h3M464.53 146.4v3M463.03 147.9h3M464.67 146.41v3M463.17 147.91h3M466.1 146.41v3M464.6 147.91h3M469.36 146.42v3M467.86 147.92h3M483.66 146.52v3M482.16 148.02h3M491.53 146.62v3M490.03 148.12h3M494.99 146.68v3M493.49 148.18h3M501.62 146.8v3M500.12 148.3h3M505.15 146.88v3M503.65 148.38h3M508.42 146.96v3M506.92 148.46h3" stroke="#444" stroke-width="0.9" fill="none"/>
<path d="M298.9 8.3 304.6 8.3 304.97 12.35 305.36 16.41 305.74 20.46 306.14 24.51 306.55 28.56 306.96 32.61 307.37 36.66 307.77 40.71 308.16 44.76 308.54 48.81 308.93 52.87 309.31 56.92 309.69 60.97 310.05 65.03 310.39 69.09 310.75 73.15 311.16 77.19 311.67 81.22 312.37 85.23 313.15 89.23 313.91 93.23 314.69 97.23 315.59 101.2 316.66 105.13 317.79 109.04 319 112.93 320.48 116.72 322.27 120.37 324.47 123.82 327.19 126.85 330.38 129.34 333.95 131.33 337.71 132.88 341.53 134.3 345.36 135.73 349.22 137 353.14 138.03 357.11 138.96 361.11 139.77 365.12 140.48 369.13 141.12 373.16 141.7 377.19 142.24 381.23 142.74 385.28 143.22 389.33 143.68 393.38 144.13 397.43 144.58 401.47 145.04 405.52 145.5 409.56 145.96 413.61 146.4 417.66 146.83 421.71 147.24 425.76 147.61 429.82 147.95 433.87 148.26 437.94 148.52 442 148.76 446.04 150.42 450.19 150.93 454.45 150.92 458.75 150.9 463.02 150.9 467.3 150.91 471.57 150.92 475.84 150.94 480.11 150.96 484.38 150.99 488.65 151.03 492.92 151.07 497.19 151.11 501.46 151.17 505.73 151.23 510 151.3" stroke="#606060" stroke-width="1.6" fill="none" stroke-dasharray="1.5 3.4 4.6 3.4"/>
<path d="M331.24 128.32v3M329.74 129.82h3M345.47 134.26v3M343.97 135.76h3M346.68 134.66v3M345.18 136.16h3M363.69 138.73v3M362.19 140.23h3M364.13 138.81v3M362.63 140.31h3M371.33 139.93v3M369.83 141.43h3M372.26 140.07v3M370.76 141.57h3M373.58 140.25v3M372.08 141.75h3M375.9 140.56v3M374.4 142.06h3M376.55 140.65v3M375.05 142.15h3M382.52 141.39v3M381.02 142.89h3M386.42 141.85v3M384.92 143.35h3M390.26 142.29v3M388.76 143.79h3M394.2 142.73v3M392.7 144.23h3M402.05 143.61v3M400.55 145.11h3M406.19 144.08v3M404.69 145.58h3M408.52 144.34v3M407.02 145.84h3M414.13 144.96v3M412.63 146.46h3M414.25 144.97v3M412.75 146.47h3M416.63 145.22v3M415.13 146.72h3M430.28 146.49v3M428.78 147.99h3M434.45 146.79v3M432.95 148.29h3M437.82 147.02v3M436.32 148.52h3M451.56 149.43v3M450.06 150.93h3M451.59 149.43v3M450.09 150.93h3M456.85 149.41v3M455.35 150.91h3M459.18 149.4v3M457.68 150.9h3M459.73 149.4v3M458.23 150.9h3M461.21 149.4v3M459.71 150.9h3M462.05 149.4v3M460.55 150.9h3M477.89 149.45v3M476.39 150.95h3M480.11 149.46v3M478.61 150.96h3M480.23 149.46v3M478.73 150.96h3M483.7 149.49v3M482.2 150.99h3M484.2 149.49v3M482.7 150.99h3M484.55 149.49v3M483.05 150.99h3M485.72 149.5v3M484.22 151h3M491.96 149.56v3M490.46 151.06h3M502.57 149.69v3M501.07 151.19h3M502.85 149.69v3M501.35 151.19h3" stroke="#666" stroke-width="0.9" fill="none"/>
<path d="M298.9 8.3 304.6 8.3 304.98 12.38 305.36 16.47 305.75 20.55 306.16 24.63 306.57 28.71 306.98 32.79 307.39 36.88 307.79 40.96 308.19 45.04 308.57 49.12 308.96 53.21 309.34 57.29 309.73 61.37 310.08 65.46 310.43 69.56 310.8 73.64 311.22 77.72 311.76 81.78 312.49 85.81 313.27 89.84 314 93.88 314.76 97.91 315.65 101.91 316.69 105.88 317.81 109.83 319.08 113.73 320.59 117.55 322.41 121.23 324.63 124.67 327.34 127.79 330.51 130.34 334.08 132.4 337.87 133.95 341.73 135.38 345.58 136.82 349.48 138.08 353.45 139.06 357.46 139.91 361.51 140.67 365.55 141.35 369.6 141.99 373.65 142.59 377.72 143.16 381.78 143.69 385.86 144.2 389.93 144.7 394.01 145.18 398.08 145.65 402.16 146.12 406.23 146.59 410.31 147.05 414.39 147.49 418.47 147.92 422.55 148.32 426.64 148.69 430.72 149.03 434.81 149.33 438.9 149.6 443 149.84 447.07 151.75 451.27 152.31 455.63 152.31 460.02 152.3 464.39 152.3 468.75 152.31 473.11 152.32 477.47 152.34 481.83 152.36 486.19 152.39 490.55 152.42 494.92 152.46 499.28 152.5 503.64 152.55 508 152.6" stroke="#8a8a8a" stroke-width="1.7" fill="none" stroke-dasharray="8 3.6"/>
<path d="M347.44 135.92v3M345.94 137.42h3M350.26 136.77v3M348.76 138.27h3M350.39 136.8v3M348.89 138.3h3M351.45 137.06v3M349.95 138.56h3M362.76 139.38v3M361.26 140.88h3M367.82 140.21v3M366.32 141.71h3M377.81 141.67v3M376.31 143.17h3M379.46 141.88v3M377.96 143.38h3M383.2 142.37v3M381.7 143.87h3M393.39 143.61v3M391.89 145.11h3M397.36 144.07v3M395.86 145.57h3M400.37 144.42v3M398.87 145.92h3M417.46 146.31v3M415.96 147.81h3M418.9 146.46v3M417.4 147.96h3M426.51 147.18v3M425.01 148.68h3M427.98 147.3v3M426.48 148.8h3M431.95 147.62v3M430.45 149.12h3M435.32 147.86v3M433.82 149.36h3M443.56 148.61v3M442.06 150.11h3M446.22 149.85v3M444.72 151.35h3M447.73 150.34v3M446.23 151.84h3M449.78 150.61v3M448.28 152.11h3M451.11 150.79v3M449.61 152.29h3M451.66 150.81v3M450.16 152.31h3M452.14 150.81v3M450.64 152.31h3M459.26 150.8v3M457.76 152.3h3M465.75 150.8v3M464.25 152.3h3M466.32 150.81v3M464.82 152.31h3M469.04 150.81v3M467.54 152.31h3M475.09 150.83v3M473.59 152.33h3M489.69 150.92v3M488.19 152.42h3M493.58 150.95v3M492.08 152.45h3M499.43 151v3M497.93 152.5h3M501.96 151.03v3M500.46 152.53h3M503.04 151.04v3M501.54 152.54h3" stroke="#888" stroke-width="0.9" fill="none"/>
<path d="M298.9 8.3 304.6 8.3 304.97 12.4 305.36 16.5 305.76 20.6 306.18 24.7 306.62 28.79 307.06 32.89 307.49 36.99 307.91 41.08 308.3 45.18 308.69 49.28 309.07 53.39 309.46 57.49 309.85 61.59 310.22 65.69 310.59 69.8 310.99 73.9 311.44 77.99 312.01 82.06 312.74 86.12 313.53 90.16 314.27 94.22 315.08 98.26 316.17 102.22 317.54 106.11 318.81 110.03 320.21 113.91 321.84 117.69 324.01 121.19 326.58 124.42 329.5 127.31 332.87 129.71 336.53 131.55 340.38 133.07 344.23 134.55 348.14 135.89 352.09 136.94 356.1 137.84 360.15 138.64 364.22 139.36 368.3 140.02 372.37 140.63 376.44 141.18 380.53 141.7 384.62 142.18 388.72 142.64 392.81 143.09 396.91 143.53 401.01 143.99 405.1 144.44 409.19 144.88 413.29 145.32 417.39 145.74 421.49 146.16 425.59 146.56 429.69 146.94 433.79 147.3 437.89 147.64 442 147.96 446.25 149.85 450.63 150.33 455.16 150.31 459.72 150.3 464.25 150.3 468.78 150.31 473.31 150.32 477.83 150.34 482.36 150.37 486.89 150.4 491.42 150.44 495.94 150.49 500.47 150.54 505 150.6" stroke="#bbb" stroke-width="1.6" fill="none" stroke-dasharray="2.4 2.4 7 2.4"/>
<path d="M342.35 132.33v3M340.85 133.83h3M352.16 135.45v3M350.66 136.95h3M355.45 136.19v3M353.95 137.69h3M361.75 137.42v3M360.25 138.92h3M362.24 137.51v3M360.74 139.01h3M386.24 140.86v3M384.74 142.36h3M389.68 141.25v3M388.18 142.75h3M394.66 141.79v3M393.16 143.29h3M412.39 143.72v3M410.89 145.22h3M427.76 145.26v3M426.26 146.76h3M429.89 145.46v3M428.39 146.96h3M437.54 146.11v3M436.04 147.61h3M446.55 148.38v3M445.05 149.88h3M447.97 148.54v3M446.47 150.04h3M458.85 148.8v3M457.35 150.3h3M459.69 148.8v3M458.19 150.3h3M463.13 148.8v3M461.63 150.3h3M465.81 148.8v3M464.31 150.3h3M490.19 148.93v3M488.69 150.43h3M497.73 149.01v3M496.23 150.51h3" stroke="#bbb" stroke-width="0.9" fill="none"/>
<path d="M304.8 8.3 305.05 12.4 305.44 16.48 305.92 20.56 306.45 24.63 307 28.69 307.55 32.76 308.06 36.83 308.56 40.91 309.1 44.98 309.57 49.05 309.93 53.14 310.26 57.23 310.58 61.32 310.89 65.41 311.22 69.51 311.6 73.59 312.02 77.67 312.52 81.75 313.04 85.82 313.4 89.91 313.7 94" stroke="#b4b4b4" stroke-width="2.0" fill="none"/>
<path d="M303.3 13.5h3.4M305 11.8v3.4M303.9 18.5h3.4M305.6 16.8v3.4M304.9 27h3.4M306.6 25.3v3.4M307.3 51.5h3.4M309 49.8v3.4M309.8 76h3.4M311.5 74.3v3.4" stroke="#909090" stroke-width="1.0" fill="none"/>
<path d="M298.9 8.3 304.6 8.3 304.97 12.6 305.39 16.9 305.86 21.2 306.36 25.49 306.88 29.78 307.4 34.06 307.83 38.36 308.22 42.66 308.61 46.97 309 51.27 309.4 55.57 309.8 59.87 310.2 64.17 310.62 68.47 311.02 72.77 311.39 77.07 311.72 81.38 312.02 85.69 312.3 90 312.4 118.7 317.5 118.7 317.5 136.2 320.8 136.2 320.8 154.3 349 154.3 349 164.1 471 164.1" stroke="#141414" stroke-width="1.9" fill="none" stroke-dasharray="4.8 4.6"/>
<path d="M350 162.5v3.2M348.4 164.1h3.2M380 162.5v3.2M378.4 164.1h3.2M420 162.5v3.2M418.4 164.1h3.2M465 162.5v3.2M463.4 164.1h3.2M471 162.5v3.2M469.4 164.1h3.2" stroke="#111" stroke-width="1.1" fill="none"/>
<path d="M313.8 119.4h2.6M315.1 118.1v2.6M316.3 128h2.6" stroke="#141414" stroke-width="1.1"/>
<path d="M298.9 267.9 304.6 267.9 304.85 272 305.24 276.08 305.72 280.16 306.25 284.23 306.8 288.29 307.35 292.36 307.86 296.43 308.36 300.51 308.9 304.58 309.37 308.65 309.73 312.74 310.06 316.83 310.38 320.92 310.69 325.01 311.02 329.11 311.4 333.19 311.82 337.27 312.32 341.35 312.84 345.42 313.2 349.51 313.5 353.6 313.86 357.69 314.3 361.77 314.9 365.83 315.71 369.85 316.67 373.84 317.68 377.82 318.48 381.85 318.95 385.93 319.73 389.95 320.98 393.85 322.54 397.65 323.91 401.52 325.54 405.29 327.13 409.08 328.84 412.79 331.19 416.17 333.74 419.39 336.44 422.51 339.88 424.7 342.3 428.02 344.48 431.07 348.52 432.48 351.5 435.2 389.9 435.2 389.9 440.1 397.3 440.1 397.3 445.9 477.7 445.9" stroke="#141414" stroke-width="1.9" fill="none"/>
<path d="M318 377.82v3.2M316.4 379.42h3.2M329 411.41v3.2M327.4 413.01h3.2M336 420.4v3.2M334.4 422h3.2M344 428.8v3.2M342.4 430.4h3.2M352 433.6v3.2M350.4 435.2h3.2M356 433.6v3.2M354.4 435.2h3.2M360 433.6v3.2M358.4 435.2h3.2M364 433.6v3.2M362.4 435.2h3.2M368 433.6v3.2M366.4 435.2h3.2M372 433.6v3.2M370.4 435.2h3.2M376 433.6v3.2M374.4 435.2h3.2M381.6 433.6v3.2M380 435.2h3.2M386.7 433.6v3.2M385.1 435.2h3.2M389.2 433.6v3.2M387.6 435.2h3.2M392.7 438.5v3.2M391.1 440.1h3.2M403.4 444.3v3.2M401.8 445.9h3.2M410 444.3v3.2M408.4 445.9h3.2M416 444.3v3.2M414.4 445.9h3.2M477.7 444.3v3.2M476.1 445.9h3.2" stroke="#111" stroke-width="1.1" fill="none"/>
<path d="M298.9 267.9 304.6 267.9 304.85 272 305.24 276.09 305.72 280.17 306.25 284.24 306.8 288.31 307.35 292.38 307.86 296.46 308.37 300.54 308.9 304.61 309.37 308.69 309.73 312.78 310.06 316.88 310.39 320.97 310.7 325.07 311.03 329.16 311.4 333.25 311.83 337.34 312.33 341.42 312.85 345.49 313.17 349.59 313.45 353.7 314.04 357.74 315.29 361.66 316.61 365.55 317.45 369.6 318.71 373.45 320.73 377.06 322.69 380.67 324.93 384.14 327.91 386.91 331.49 388.94 335.14 390.83 338.85 392.57 342.67 394.11 346.55 395.44 350.48 396.65 354.38 397.95 358.35 398.96 362.38 399.79 366.44 400.48 370.51 401 374.59 401.41 378.69 401.78 382.78 402.17 386.87 402.55 390.96 402.93 395.05 403.31 399.14 403.71 403.22 404.15 407.3 404.64 411.38 405.15 415.46 405.66 419.54 406.16 423.62 406.62 427.7 407.01 431.8 407.33 435.9 407.59 440 407.8 444.08 409 448.21 409.97 452.39 410.63 456.63 410.87 460.88 410.99 465.12 411.01 469.36 411.03 473.6 411.05 477.85 411.06 482.09 411.07 486.33 411.08 490.57 411.09 494.82 411.09 499.06 411.1 503.31 411.1 507.55 411.1 511.8 411.1" stroke="#a0a0a0" stroke-width="1.9" fill="none"/>
<path d="M316.61 365.55 317.45 369.6 318.71 373.45 320.73 377.06 322.69 380.67 324.93 384.14 327.91 386.91 331.49 388.94 335.14 390.83 338.85 392.57 342.67 394.11 346.55 395.44 350.48 396.65 354.38 397.95 358.35 398.96 362.38 399.79 366.44 400.48 370.51 401 374.59 401.41 378.69 401.78 382.78 402.17 386.87 402.55 390.96 402.93 395.05 403.31 399.14 403.71 403.22 404.15 407.3 404.64 411.38 405.15 415.46 405.66 419.54 406.16 423.62 406.62 427.7 407.01 431.8 407.33 435.9 407.59 440 407.8 444.08 409 448.21 409.97 452.39 410.63 456.63 410.87 460.88 410.99 465.12 411.01 469.36 411.03 473.6 411.05 477.85 411.06 482.09 411.07 486.33 411.08 490.57 411.09 494.82 411.09 499.06 411.1 503.31 411.1 507.55 411.1 511.8 411.1" stroke="#a4a4a4" stroke-width="2.6" fill="none"/>
<path d="M320.45 374.76v3.6M318.65 376.56h3.6M320.51 374.87v3.6M318.71 376.67h3.6M325.72 383.07v3.6M323.92 384.87h3.6M327.04 384.3v3.6M325.24 386.1h3.6M328 385.16v3.6M326.2 386.96h3.6M328.11 385.22v3.6M326.31 387.02h3.6M329.62 386.07v3.6M327.82 387.87h3.6M334.79 388.85v3.6M332.99 390.65h3.6M334.81 388.86v3.6M333.01 390.66h3.6M338.93 390.81v3.6M337.13 392.61h3.6M340.73 391.53v3.6M338.93 393.33h3.6M341.3 391.76v3.6M339.5 393.56h3.6M341.41 391.81v3.6M339.61 393.61h3.6M345.53 393.29v3.6M343.73 395.09h3.6M345.76 393.37v3.6M343.96 395.17h3.6M347.26 393.86v3.6M345.46 395.66h3.6M347.83 394.03v3.6M346.03 395.83h3.6M350.56 394.88v3.6M348.76 396.68h3.6M352.45 395.51v3.6M350.65 397.31h3.6M354.31 396.13v3.6M352.51 397.93h3.6M355.12 396.34v3.6M353.32 398.14h3.6M355.94 396.54v3.6M354.14 398.34h3.6M356.75 396.75v3.6M354.95 398.55h3.6M356.79 396.76v3.6M354.99 398.56h3.6M357.11 396.84v3.6M355.31 398.64h3.6M358.06 397.08v3.6M356.26 398.88h3.6M358.39 397.16v3.6M356.59 398.96h3.6M359.71 397.44v3.6M357.91 399.24h3.6M359.76 397.45v3.6M357.96 399.25h3.6M362.53 398.02v3.6M360.73 399.82h3.6M364.35 398.33v3.6M362.55 400.13h3.6M366.97 398.75v3.6M365.17 400.55h3.6M367.53 398.82v3.6M365.73 400.62h3.6M370.51 399.2v3.6M368.71 401h3.6M371.39 399.29v3.6M369.59 401.09h3.6M376.89 399.81v3.6M375.09 401.61h3.6M377.88 399.9v3.6M376.08 401.7h3.6M381.39 400.23v3.6M379.59 402.03h3.6M383.24 400.41v3.6M381.44 402.21h3.6M385.28 400.6v3.6M383.48 402.4h3.6M387.05 400.76v3.6M385.25 402.56h3.6M387.28 400.79v3.6M385.48 402.59h3.6M388.38 400.89v3.6M386.58 402.69h3.6M389.72 401.01v3.6M387.92 402.81h3.6M390.48 401.08v3.6M388.68 402.88h3.6M392.8 401.3v3.6M391 403.1h3.6M392.84 401.3v3.6M391.04 403.1h3.6M395.7 401.57v3.6M393.9 403.37h3.6M396.28 401.63v3.6M394.48 403.43h3.6M396.63 401.67v3.6M394.83 403.47h3.6M399.16 401.91v3.6M397.36 403.71h3.6M400.2 402.03v3.6M398.4 403.83h3.6M403.03 402.33v3.6M401.23 404.13h3.6M404.4 402.49v3.6M402.6 404.29h3.6M407.4 402.85v3.6M405.6 404.65h3.6M407.5 402.86v3.6M405.7 404.66h3.6M408.24 402.95v3.6M406.44 404.75h3.6M411.97 403.42v3.6M410.17 405.22h3.6M412.15 403.44v3.6M410.35 405.24h3.6M413.46 403.61v3.6M411.66 405.41h3.6M414.46 403.74v3.6M412.66 405.54h3.6M415.08 403.82v3.6M413.28 405.62h3.6M415.9 403.92v3.6M414.1 405.72h3.6M419.49 404.36v3.6M417.69 406.16h3.6M420.24 404.44v3.6M418.44 406.24h3.6M420.57 404.48v3.6M418.77 406.28h3.6M420.61 404.48v3.6M418.81 406.28h3.6M422.11 404.65v3.6M420.31 406.45h3.6M422.39 404.68v3.6M420.59 406.48h3.6M422.88 404.74v3.6M421.08 406.54h3.6M425 404.95v3.6M423.2 406.75h3.6M427.54 405.2v3.6M425.74 407h3.6M427.99 405.24v3.6M426.19 407.04h3.6M430.78 405.45v3.6M428.98 407.25h3.6M432.46 405.57v3.6M430.66 407.37h3.6M433.33 405.63v3.6M431.53 407.43h3.6M434.21 405.68v3.6M432.41 407.48h3.6M434.26 405.68v3.6M432.46 407.48h3.6M438.42 405.92v3.6M436.62 407.72h3.6M440.39 406.12v3.6M438.59 407.92h3.6M442.73 406.81v3.6M440.93 408.61h3.6M443.36 406.99v3.6M441.56 408.79h3.6M445.77 407.6v3.6M443.97 409.4h3.6M450.46 408.52v3.6M448.66 410.32h3.6M451.99 408.76v3.6M450.19 410.56h3.6M452.86 408.85v3.6M451.06 410.65h3.6M456.03 409.03v3.6M454.23 410.83h3.6M456.74 409.07v3.6M454.94 410.87h3.6M458.1 409.11v3.6M456.3 410.91h3.6M458.18 409.11v3.6M456.38 410.91h3.6M460.55 409.18v3.6M458.75 410.98h3.6M461.23 409.19v3.6M459.43 410.99h3.6M462.25 409.2v3.6M460.45 411h3.6M463.8 409.21v3.6M462 411.01h3.6M463.85 409.21v3.6M462.05 411.01h3.6M466.09 409.22v3.6M464.29 411.02h3.6M466.39 409.22v3.6M464.59 411.02h3.6M466.62 409.22v3.6M464.82 411.02h3.6M468.01 409.23v3.6M466.21 411.03h3.6M468.52 409.23v3.6M466.72 411.03h3.6M468.8 409.23v3.6M467 411.03h3.6M470.55 409.24v3.6M468.75 411.04h3.6M472.6 409.24v3.6M470.8 411.04h3.6M473.27 409.25v3.6M471.47 411.05h3.6M474.99 409.25v3.6M473.19 411.05h3.6M480.91 409.27v3.6M479.11 411.07h3.6M483.08 409.27v3.6M481.28 411.07h3.6M483.4 409.27v3.6M481.6 411.07h3.6M483.68 409.27v3.6M481.88 411.07h3.6M485.4 409.28v3.6M483.6 411.08h3.6M485.78 409.28v3.6M483.98 411.08h3.6M489.33 409.28v3.6M487.53 411.08h3.6M489.49 409.28v3.6M487.69 411.08h3.6M490.89 409.29v3.6M489.09 411.09h3.6M496.13 409.29v3.6M494.33 411.09h3.6M496.67 409.29v3.6M494.87 411.09h3.6M497.03 409.29v3.6M495.23 411.09h3.6M500.37 409.3v3.6M498.57 411.1h3.6M502.21 409.3v3.6M500.41 411.1h3.6M505.63 409.3v3.6M503.83 411.1h3.6" stroke="#a4a4a4" stroke-width="1.0" fill="none"/>
<path d="M303 272.4h3.4M304.7 270.7v3.4M303.6 276.4h3.4M305.3 274.7v3.4M305.5 290.5h3.4M307.2 288.8v3.4M309.8 333h3.4M311.5 331.3v3.4M311.7 350h3.4M313.4 348.3v3.4" stroke="#9a9a9a" stroke-width="1.0" fill="none"/>
<line x1="82.1" y1="19.6" x2="100" y2="19.6" stroke="#141414" stroke-width="1.9" fill="none"/>
<text x="108" y="22.55">M0, n = 353</text>
<line x1="82.1" y1="30.58" x2="100" y2="30.58" stroke="#999" stroke-width="1.6" fill="none"/>
<text x="108" y="33.53">M1, n = 1442</text>
<line x1="82.1" y1="41.56" x2="100" y2="41.56" stroke="#404040" stroke-width="1.8" fill="none" stroke-dasharray="1.6 3.3"/>
<text x="108" y="44.51">M2, n = 1658</text>
<line x1="82.1" y1="52.54" x2="100" y2="52.54" stroke="#606060" stroke-width="1.6" fill="none" stroke-dasharray="1.5 3.4 4.6 3.4"/>
<text x="108" y="55.49">M4, n = 1244</text>
<line x1="82.1" y1="63.52" x2="100" y2="63.52" stroke="#888" stroke-width="1.6" fill="none" stroke-dasharray="8 3.6"/>
<text x="108" y="66.47">M5, n = 868</text>
<line x1="82.1" y1="74.5" x2="100" y2="74.5" stroke="#bbb" stroke-width="1.6" fill="none" stroke-dasharray="2.4 2.4 7 2.4"/>
<text x="108" y="77.45">M6, n = 241</text>
<line x1="82.1" y1="85.48" x2="100" y2="85.48" stroke="#141414" stroke-width="1.9" fill="none" stroke-dasharray="4.8 4.6"/>
<text x="108" y="88.43">M7, n = 42</text>
<line x1="358.7" y1="19.4" x2="376.3" y2="19.4" stroke="#141414" stroke-width="1.9" fill="none"/>
<text x="384.2" y="22.35">M0, n = 221</text>
<line x1="358.7" y1="30.38" x2="376.3" y2="30.38" stroke="#999" stroke-width="1.6" fill="none"/>
<text x="384.2" y="33.33">M1, n = 1072</text>
<line x1="358.7" y1="41.36" x2="376.3" y2="41.36" stroke="#404040" stroke-width="1.8" fill="none" stroke-dasharray="1.6 3.3"/>
<text x="384.2" y="44.31">M2, n = 1300</text>
<line x1="358.7" y1="52.34" x2="376.3" y2="52.34" stroke="#606060" stroke-width="1.6" fill="none" stroke-dasharray="1.5 3.4 4.6 3.4"/>
<text x="384.2" y="55.29">M4, n = 946</text>
<line x1="358.7" y1="63.32" x2="376.3" y2="63.32" stroke="#888" stroke-width="1.6" fill="none" stroke-dasharray="8 3.6"/>
<text x="384.2" y="66.27">M5, n = 697</text>
<line x1="358.7" y1="74.3" x2="376.3" y2="74.3" stroke="#bbb" stroke-width="1.6" fill="none" stroke-dasharray="2.4 2.4 7 2.4"/>
<text x="384.2" y="77.25">M6, n = 196</text>
<line x1="358.7" y1="85.28" x2="376.3" y2="85.28" stroke="#141414" stroke-width="1.9" fill="none" stroke-dasharray="4.8 4.6"/>
<text x="384.2" y="88.23">M7, n = 27</text>
<line x1="81.8" y1="279" x2="99.5" y2="279" stroke="#141414" stroke-width="1.9" fill="none"/>
<text x="107.4" y="281.95">M0, n = 353</text>
<line x1="81.8" y1="290.05" x2="99.5" y2="290.05" stroke="#a4a4a4" stroke-width="1.6" fill="none"/>
<text x="107.4" y="293">M1−M6, n = 5453</text>
<line x1="358.5" y1="279" x2="376.2" y2="279" stroke="#141414" stroke-width="1.9" fill="none"/>
<text x="384" y="281.95">M0, n = 221</text>
<line x1="358.5" y1="290.05" x2="376.2" y2="290.05" stroke="#a4a4a4" stroke-width="1.6" fill="none"/>
<text x="384" y="293">M1−M6, n = 4211</text>
</svg></body></html>
